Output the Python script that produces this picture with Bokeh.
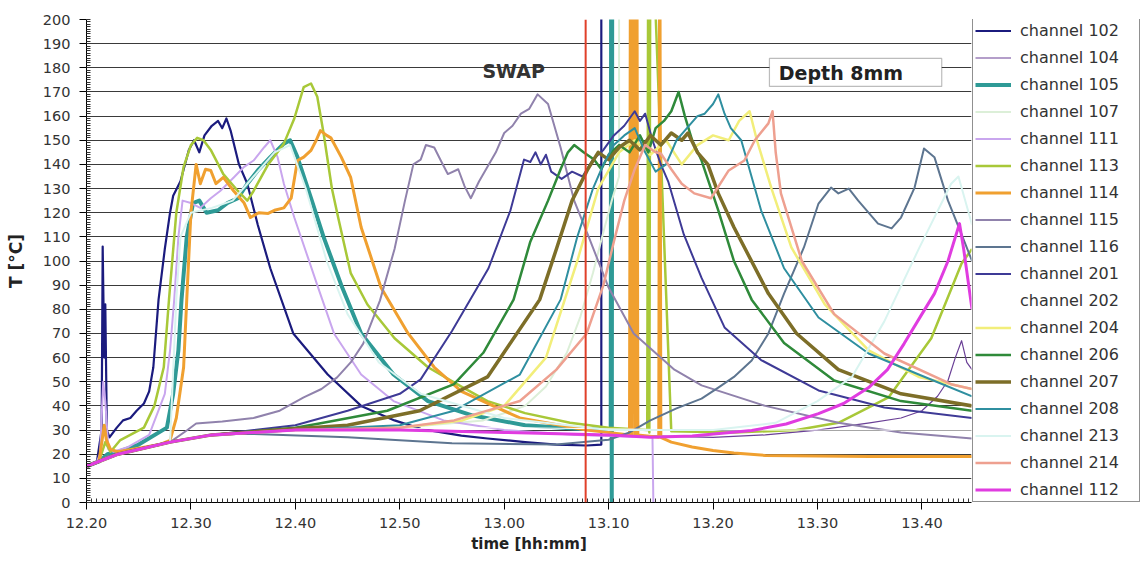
from bokeh.plotting import figure
from bokeh.layouts import row
from bokeh.models import (FixedTicker, Legend, LegendItem, Span, BoxAnnotation, Label)
from bokeh.embed import file_html
from bokeh.resources import INLINE

# ---------------- data (time in minutes after 12:20, temperature in degC) ----------------
tick_minutes = [0, 10, 20, 30, 40, 50, 60, 70, 80]
tick_labels = ["12.20", "12.30", "12.40", "12.50", "13.00", "13.10", "13.20", "13.30", "13.40"]
minor_minutes = [i * 0.5 for i in range(170)]
y_ticks = list(range(0, 201, 10))
y_minor = list(range(0, 201, 1))

swap_time = 47.8
swap_label_t, swap_label_T = 40.9, 178.5
depth_box = (65.4, 81.9, 172.3, 183.9)   # left, right, bottom, top
depth_label_t, depth_label_T = 66.3, 178.0

t102 = [0, 1.0, 1.45, 1.55, 1.7, 1.8, 1.95, 2.2, 2.9, 3.5, 4.2, 4.8, 5.5, 6.0, 6.4, 6.9, 7.5, 8.0, 8.3, 9.0, 9.8, 10.3, 10.8, 11.3, 12.0, 12.6, 13.0, 13.4, 13.8, 14.6, 15.4, 16.4, 17.6, 19.8, 23.1, 26.3, 29.5, 32.0, 35.9, 38.4, 42.0, 45.0, 47.9, 49.3, 49.3]
v102 = [15, 17, 30, 106, 60, 82, 30, 27, 31, 34, 35, 38, 41, 46, 56, 84, 105, 120, 127, 133, 146, 150, 145, 152, 156, 158, 155, 159, 154, 140, 132, 115, 97, 70, 53, 40, 34, 30.5, 27.7, 26.5, 25, 24, 23.6, 24, 260]

t104 = [0, 3, 8, 12, 20, 30, 40, 50, 60, 65, 70, 75, 78, 80, 81.5, 82.5, 83.2, 83.8, 84.3, 84.8]
v104 = [15, 20, 25, 28, 30, 30, 29, 28, 27, 28, 30, 33, 35, 38, 44, 50.5, 60, 67, 58, 55]

t105 = [0, 1.2, 2.0, 3, 5, 7.7, 8.3, 8.8, 9.1, 9.6, 10.2, 10.8, 11.5, 12.6, 13.5, 14.5, 15.4, 16.4, 17.6, 18.9, 19.5, 20.2, 21.5, 22.7, 24.4, 26.3, 29.4, 32.7, 37, 42, 47, 50.2, 50.25, 50.3, 50.35]
v105 = [15, 17, 20, 21, 24, 31, 45, 63, 84, 110, 124, 125, 120, 121, 124, 126, 132, 137.5, 143, 148.6, 150, 143, 126, 110, 90, 70, 53, 42, 36, 32, 30.5, 30, 260, -5, 260]

t107 = [0, 3, 8, 12, 20, 30, 38, 42, 44, 46, 47.3, 48.5, 49.5, 50.3, 51.0, 51.0]
v107 = [15, 20, 25, 28, 30, 31, 34, 40, 48, 62, 77, 95, 112, 125, 135, 260]

t111 = [0, 1.0, 1.3, 1.6, 1.8, 2.1, 2.6, 4, 6, 7.5, 8.0, 8.4, 8.8, 9.2, 10, 10.9, 11.9, 12.8, 14.1, 15.1, 16, 17, 17.6, 18.3, 18.9, 19.9, 21.2, 22.1, 23.7, 26.3, 29.4, 34.2, 40, 47, 54.2, 54.3]
v111 = [15, 17, 20, 50, 42, 22, 21, 23, 28, 45, 63, 84, 110, 125, 124, 122, 126, 129, 134.6, 139, 141.6, 147, 150, 143, 132, 118, 101.5, 90, 70, 53, 42, 34, 30, 28, 27, -5]

t113 = [0, 1.2, 1.8, 2.3, 3.2, 5.5, 6.5, 7.4, 7.9, 8.6, 9.3, 10.0, 10.6, 11.2, 11.9, 13.1, 14.5, 15.4, 16.0, 17.4, 18.9, 19.9, 20.8, 21.5, 22.1, 22.7, 23.5, 24.1, 25.3, 26.9, 29.5, 32.7, 35.9, 38.4, 42, 46.3, 50, 53.7, 53.8, 53.9, 54.0, 56, 62, 68, 72, 76.8, 80.9, 83.8, 84.8]
v113 = [15, 17, 25, 21, 25.7, 31, 40, 56, 84, 120, 139, 148, 151, 150, 146, 136, 129, 125, 129, 140, 148.6, 159, 172, 173.5, 168, 153, 130, 118, 95, 82, 68, 56, 48, 42, 37, 33, 31, 30, 260, 29, 260, 29.5, 29, 30, 33, 43.5, 68, 99, 105]

t114 = [0, 1.2, 1.7, 1.9, 2.3, 3, 5, 7, 8, 8.6, 9.3, 9.6, 10.0, 10.5, 10.9, 11.4, 11.9, 12.4, 13.1, 14.1, 15.1, 15.7, 16.5, 17.4, 18.0, 18.9, 19.6, 20.2, 20.8, 21.5, 22.0, 22.4, 23.0, 23.4, 24.4, 25.3, 26.3, 28.2, 30.8, 33.3, 35.9, 41.5, 47.9, 52.0, 52.1, 52.25, 52.4, 52.55, 52.7, 52.8, 54.8, 54.9, 55.0, 56, 58, 60, 62, 65, 75, 84.8]
v114 = [15, 17, 32, 26, 22, 21, 22.5, 24, 25.7, 35, 56, 84, 120, 140, 132, 138, 137.5, 132, 134.6, 129, 124, 118, 120, 119.7, 121, 122, 126, 141.6, 143, 145.8, 150, 154, 152, 151, 143, 134.6, 114, 89, 70, 56, 46, 35, 30, 28, 260, 28, 260, 28, 260, 28, 27, 260, 27, 25, 23, 21.5, 20.5, 19.5, 19, 19]

t115 = [0, 2, 4, 8, 9.6, 10.5, 13, 16, 18.5, 20.8, 22.5, 24, 25.3, 26.5, 28.1, 29.5, 30.5, 31.3, 32, 32.5, 33.3, 34.0, 34.6, 35.6, 36.2, 36.8, 37.6, 38.4, 39.2, 40, 40.8, 41.6, 42.4, 43.2, 44.2, 45.4, 46.7, 48, 50, 52.4, 56.3, 58.9, 65, 72, 78, 84.8]
v115 = [15, 19, 21, 25, 29.8, 32.7, 33.5, 35, 38, 43.5, 47, 51.8, 58, 65.8, 83.6, 105, 125, 140, 142, 148, 147, 141, 136, 138, 131, 126, 133, 139, 145, 153, 156, 161, 163, 169, 165, 147, 125, 111, 89, 70, 55, 48.5, 40, 33, 29, 26.5]

t116 = [0, 3, 8, 12, 15, 25, 35, 45, 50, 52, 54, 56.5, 58.9, 60.5, 62, 63.7, 65.3, 66.8, 68.7, 70.1, 71.3, 72.0, 73.0, 73.9, 75.8, 77.1, 78.0, 79.3, 80.2, 81.2, 82.5, 83.8, 84.8]
v116 = [15, 20, 25, 28, 28.5, 27, 24.5, 24, 26, 29, 34, 39, 43, 47.6, 52, 58.8, 70, 86.5, 105.6, 123.8, 130.4, 128, 130, 125, 115.5, 113.5, 118, 130.4, 146.6, 143, 125, 111, 100]

t201 = [0, 3, 8, 12, 20, 25, 30, 32, 35, 38.5, 40.6, 41.9, 42.5, 43.0, 43.5, 44.0, 44.5, 45.5, 46.5, 47.5, 48.5, 49.5, 50.5, 51.5, 52.5, 53.0, 53.5, 54.2, 55.0, 55.7, 57.2, 58.9, 61.1, 64.6, 70.1, 76.4, 84.8]
v201 = [15, 20, 25, 28, 32, 38, 45, 51, 71, 97, 121, 142, 141, 145, 140, 144, 137, 134, 137, 135, 142, 146, 152, 156, 162, 158, 161, 150, 140, 133, 111, 93, 72.5, 59, 46.4, 39.3, 35]

t202 = [0, 3, 8, 12, 20, 40, 60, 84.8]
v202 = [15, 20, 25, 28, 30, 31, 30, 30]

t204 = [0, 3, 8, 12, 20, 30, 36, 40, 44, 47, 49, 51, 52.5, 54, 55.5, 57, 58.5, 60, 61.5, 62.5, 63.5, 64.2, 65.6, 67.5, 70.7, 74.9, 79.7, 84.8]
v204 = [15, 20, 25, 28, 30, 31, 34, 40, 60, 100, 130, 145, 150, 144, 150, 140, 148, 152, 150, 158, 162, 150, 130, 105.6, 82, 63, 52, 47]

t206 = [0, 3, 8, 12, 20, 22.3, 28.8, 35.2, 38, 40.9, 42.5, 44.2, 45.4, 46.1, 46.7, 47.6, 48.6, 49.3, 50, 51, 52, 53, 53.8, 54.5, 55.3, 56, 56.7, 57.3, 58, 58.9, 60.5, 62, 63.7, 66.8, 71.6, 78, 84.8]
v206 = [15, 20, 25, 28, 31, 32.7, 38, 49, 62, 84, 108, 125, 138, 145, 148, 145, 142, 138, 144, 148, 145, 152, 145, 155, 158, 162, 170, 160, 150, 141.6, 121, 100, 84, 66, 50.5, 42, 38]

t207 = [0, 3, 8, 12, 20, 25, 31.9, 38.4, 43.4, 45, 46.5, 48, 49, 50, 51, 52, 53, 54, 55, 56, 57, 57.6, 58.5, 59.5, 60.5, 62, 65.3, 68, 72, 78, 84.8]
v207 = [15, 20, 25, 28, 30.5, 32, 38, 52, 84, 105, 125, 138, 145, 142, 147, 150, 146, 152, 148, 153, 150, 153, 145, 140, 128, 114, 86.5, 70, 55, 45, 40]

t208 = [0, 3, 8, 12, 20, 30, 35.2, 41.5, 45.4, 47, 48.5, 49.5, 50.5, 51.5, 52.5, 53.5, 54.5, 55.5, 56.5, 57.5, 58.5, 59.2, 60, 60.5, 61.1, 61.7, 62.7, 64.6, 66.8, 70.1, 74.9, 79.7, 84.8]
v208 = [15, 20, 25, 28, 30, 32, 38, 53, 84, 110, 130, 140, 148, 152, 155, 145, 137, 140, 150, 155, 160, 161, 165, 169, 161, 155, 150, 121, 97, 76.6, 61.7, 53, 44]

t213 = [0, 3, 8, 8.6, 9, 10, 12, 14, 16, 18, 19.5, 21, 23, 25, 28, 32, 40, 50, 60, 66, 70, 73.3, 76.4, 79.7, 82.8, 83.5, 84.8]
v213 = [15, 20, 25, 84, 110, 120, 122, 125, 135, 145, 148, 130, 100, 78, 58, 45, 35, 30, 30, 33, 42, 52, 75, 105, 132, 135, 115]

t214 = [0, 3, 8, 12, 20, 30, 35.2, 41.5, 45, 47.9, 49.5, 50.5, 51.5, 52.5, 53.5, 54.5, 55, 56, 57, 58.2, 59.8, 61.5, 63, 64, 65.3, 65.7, 66.0, 66.5, 68.5, 71.6, 76.4, 82.8, 84.8]
v214 = [15, 20, 25, 28, 30, 31, 34, 42, 55, 70, 90, 108, 125, 138, 148, 145, 144.5, 138, 132, 128, 126, 137.5, 141.6, 150, 157, 162, 145, 128, 100, 78, 61.7, 49, 47]

t112 = [0, 3, 8, 12, 20, 30, 40, 50, 54, 58, 63.7, 67, 70.1, 72.5, 74.9, 76.7, 78.3, 80, 81.2, 82.5, 83.6, 84.0, 84.8]
v112 = [15, 20, 25, 28, 30, 30, 29, 28, 27, 27.5, 29.8, 32.5, 36.8, 41, 47.6, 55, 65.8, 78, 86.5, 100, 115.5, 105, 80]

channels = ["channel 102", "channel 104", "channel 105", "channel 107", "channel 111", "channel 113",
            "channel 114", "channel 115", "channel 116", "channel 201", "channel 202", "channel 204",
            "channel 206", "channel 207", "channel 208", "channel 213", "channel 214", "channel 112"]
times = [t102, t104, t105, t107, t111, t113, t114, t115, t116, t201, t202, t204, t206, t207, t208, t213, t214, t112]
temps = [v102, v104, v105, v107, v111, v113, v114, v115, v116, v201, v202, v204, v206, v207, v208, v213, v214, v112]
colors = ["#1b1b7e", "#6a3f96", "#2e9a96", "#dcefd8", "#c9a6ee", "#a8c838",
          "#f0a030", "#9082ac", "#5d7590", "#3e3a96", "#ffffff", "#f2ee7a",
          "#2f8a3a", "#7d6e28", "#2f8fa0", "#d9f4f0", "#eea090", "#e03ce0"]
widths = [2.2, 1.2, 4, 2, 2, 2.5, 3, 2, 2, 2, 1, 2.5, 2.5, 3.5, 2, 2, 2.5, 3]

# ---------------- main chart ----------------
p = figure(width=972, height=567, x_range=(0, 84.75), y_range=(0, 200),
           output_backend="svg", toolbar_location=None,
           min_border_left=86, min_border_right=1, min_border_top=19, min_border_bottom=65)
p.outline_line_color = None
p.background_fill_color = "white"
p.border_fill_color = "white"

p.xgrid.visible = False
p.ygrid.grid_line_color = "#3a3a3a"
p.ygrid.grid_line_width = 1

p.xaxis.ticker = FixedTicker(ticks=tick_minutes, minor_ticks=minor_minutes)
p.xaxis.major_label_overrides = {m: lab for m, lab in zip(tick_minutes, tick_labels)}
p.yaxis.ticker = FixedTicker(ticks=y_ticks, minor_ticks=y_minor)

for ax in (p.xaxis[0], p.yaxis[0]):
    ax.axis_line_color = "black"
    ax.major_tick_line_color = "black"
    ax.minor_tick_line_color = "#333333"
    ax.major_tick_in = 0
    ax.major_tick_out = 7
    ax.minor_tick_in = 4
    ax.minor_tick_out = 0
    ax.major_label_text_font = "DejaVu Sans"
    ax.major_label_text_font_size = "14.5px"
    ax.major_label_text_color = "#333333"
    ax.axis_label_text_font = "DejaVu Sans"
    ax.axis_label_text_font_style = "bold"
    ax.axis_label_text_color = "#222222"

p.xaxis.axis_label = "time [hh:mm]"
p.xaxis.axis_label_text_font_size = "15px"
p.xaxis.major_label_standoff = 8
p.xaxis.axis_label_standoff = 4
p.yaxis.axis_label = "T [°C]"
p.yaxis.axis_label_text_font_size = "17px"
p.yaxis.major_label_standoff = 9
p.yaxis.axis_label_standoff = 14

for t, v, c, w in zip(times, temps, colors, widths):
    p.line(t, v, line_color=c, line_width=w, line_join="round")

p.add_layout(Span(location=swap_time, dimension="height", line_color="#e0402a", line_width=2))

p.add_layout(Label(x=swap_label_t, y=swap_label_T, text="SWAP", text_font="DejaVu Sans",
                   text_font_style="bold", text_font_size="19px", text_color="#333333",
                   text_align="center", text_baseline="middle"))
p.add_layout(BoxAnnotation(left=depth_box[0], right=depth_box[1], bottom=depth_box[2], top=depth_box[3],
                           fill_color="white", fill_alpha=1, line_color="#222222", line_width=1.2))
p.add_layout(Label(x=depth_label_t, y=depth_label_T, text="Depth 8mm", text_font="DejaVu Sans",
                   text_font_style="bold", text_font_size="19px", text_color="#222222",
                   text_align="left", text_baseline="middle"))

# ---------------- legend panel ----------------
lg = figure(width=173, height=567, x_range=(0, 1), y_range=(0, 1),
            output_backend="svg", toolbar_location=None,
            min_border_left=0, min_border_right=0, min_border_top=0, min_border_bottom=0)
lg.axis.visible = False
lg.grid.visible = False
lg.outline_line_color = None
lg.border_fill_color = "white"

items = []
for n, c, w in zip(channels, colors, widths):
    # legend swatch renderers: kept outside the (hidden) range of this panel
    r = lg.line([5, 6], [5, 6], line_color=c, line_width=w)
    items.append(LegendItem(label=n, renderers=[r]))

legend = Legend(items=items, location=(0, 0), margin=0, padding=2, spacing=8,
                label_height=19, glyph_height=19, glyph_width=36, label_standoff=9, label_width=117,
                label_text_font="DejaVu Sans", label_text_font_size="16px", label_text_color="#333333",
                border_line_color="#222222", border_line_width=1, background_fill_color="white",
                background_fill_alpha=1)
lg.add_layout(legend)

layout = row(p, lg, spacing=0)
open("out.html", "w").write(file_html(layout, INLINE))
